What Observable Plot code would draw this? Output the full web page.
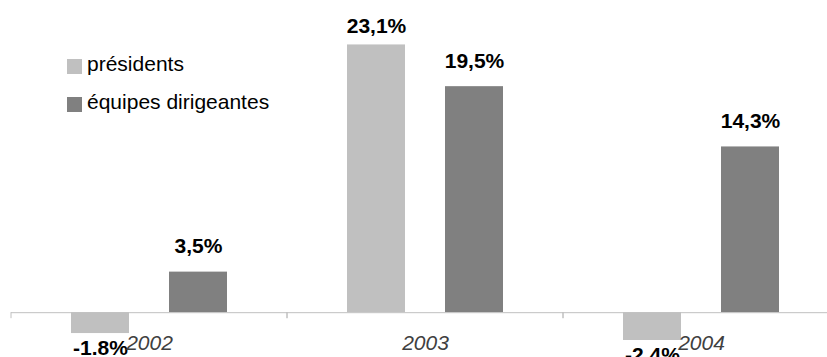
<!DOCTYPE html>
<html>
<head>
<meta charset="utf-8">
<script src="https://cdn.jsdelivr.net/npm/d3@7"></script>
<script src="https://cdn.jsdelivr.net/npm/@observablehq/plot@0.6"></script>
<style>
  html, body { margin: 0; padding: 0; background: #fff; }
  #wrap { position: relative; width: 827px; height: 357px; overflow: hidden; font-family: "Liberation Sans", Arial, sans-serif; }
  #legend { position: absolute; left: 67px; top: 53px; font-size: 21px; color: #000; }
  #legend .row { position: relative; height: 38px; }
  #legend .sw { position: absolute; left: 0; top: 6px; width: 15px; height: 15px; }
  #legend .lb { position: absolute; left: 20px; top: 0; line-height: 21px; white-space: nowrap; }
</style>
</head>
<body>
<div id="wrap"></div>
<script>
const years = ["2002", "2003", "2004"];
const series = ["présidents", "équipes dirigeantes"];
const presidents = [-1.8, 23.1, -2.4];
const equipes = [3.5, 19.5, 14.3];
const colors = ["#c0c0c0", "#808080"];

const rows = [];
years.forEach((yr, i) => {
  rows.push({year: yr, series: series[0], value: presidents[i]});
  rows.push({year: yr, series: series[1], value: equipes[i]});
});
const maxVal = d3.max(rows, d => d.value);
// the reference shows positive labels with a decimal comma, negative ones with a point
const fmtPos = v => v.toFixed(1).replace(".", ",") + "%";
const fmtNeg = v => v.toFixed(1) + "%";

function boundaryTicks(index, scales, values, dimensions) {
  const {y} = scales;
  const {width, marginLeft, marginRight} = dimensions;
  const g = document.createElementNS("http://www.w3.org/2000/svg", "g");
  const y0 = y(0);
  for (const x of [marginLeft, width - marginRight]) {
    const l = document.createElementNS("http://www.w3.org/2000/svg", "line");
    l.setAttribute("x1", x); l.setAttribute("x2", x);
    l.setAttribute("y1", y0); l.setAttribute("y2", y0 + 6);
    l.setAttribute("stroke", "#c0c0c0");
    g.appendChild(l);
  }
  return g;
}

const chart = Plot.plot({
  width: 827,
  height: 357,
  marginLeft: 10,
  marginRight: 0,
  marginTop: 34,
  marginBottom: 17,
  style: {fontFamily: "Liberation Sans, Arial, sans-serif", background: "transparent"},
  fx: {domain: years, range: [10, 840], padding: 0, label: null},
  x: {domain: series, paddingInner: 0.41, paddingOuter: 0.61, axis: null},
  y: {domain: [-2.4, 24], axis: null},
  color: {domain: series, range: colors},
  marks: [
    Plot.barY(rows, {fx: "year", x: "series", y: "value", fill: "series"}),
    Plot.ruleY([0], {stroke: "#c0c0c0", strokeWidth: 1}),
    boundaryTicks,
    Plot.text(rows.filter(d => d.value > 0 && d.value < maxVal), {
      fx: "year", x: "series", y: "value", text: d => fmtPos(d.value),
      lineAnchor: "bottom", dy: -19, fontSize: 21, fontWeight: "bold", fill: "#000"
    }),
    Plot.text(rows.filter(d => d.value === maxVal), {
      fx: "year", x: "series", y: "value", text: d => fmtPos(d.value),
      lineAnchor: "bottom", dy: -12, fontSize: 21, fontWeight: "bold", fill: "#000"
    }),
    Plot.text(rows.filter(d => d.value < 0), {
      fx: "year", x: "series", y: "value", text: d => fmtNeg(d.value),
      lineAnchor: "top", dy: 7, fontSize: 21, fontWeight: "bold", fill: "#000"
    }),
    Plot.axisFx({anchor: "bottom", tickSize: 0, tickPadding: 0, dy: -5, label: null,
      fontSize: 21, fontStyle: "italic", fill: "#404040"})
  ]
});

const wrap = document.getElementById("wrap");
wrap.appendChild(chart);

const legend = document.createElement("div");
legend.id = "legend";
series.forEach((s, i) => {
  const row = document.createElement("div");
  row.className = "row";
  const sw = document.createElement("div");
  sw.className = "sw";
  sw.style.background = colors[i];
  const lb = document.createElement("div");
  lb.className = "lb";
  lb.textContent = s;
  row.appendChild(sw);
  row.appendChild(lb);
  legend.appendChild(row);
});
wrap.appendChild(legend);
</script>
</body>
</html>
